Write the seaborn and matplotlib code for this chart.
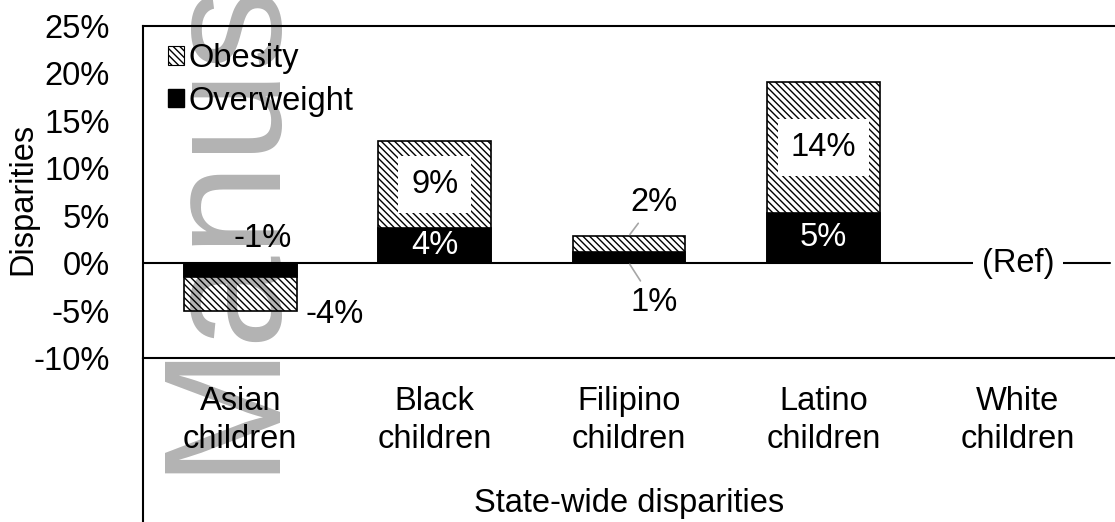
import matplotlib
matplotlib.use("Agg")
import matplotlib.pyplot as plt
import seaborn as sns
import pandas as pd
import numpy as np
from matplotlib.ticker import PercentFormatter
from matplotlib.lines import Line2D
from matplotlib.patches import Patch

# State-wide disparities relative to White children
groups = ["Asian\nchildren", "Black\nchildren", "Filipino\nchildren",
          "Latino\nchildren", "White\nchildren"]
overweight = [-0.0145, 0.037, 0.012, 0.053, 0.0]
obesity = [-0.036, 0.092, 0.017, 0.138, 0.0]
y_ticks = [-0.10, -0.05, 0.0, 0.05, 0.10, 0.15, 0.20, 0.25]
ref_group = "White\nchildren"

sns.set_theme(style="white")
plt.rcParams["font.family"] = ["Liberation Sans", "DejaVu Sans"]
plt.rcParams["axes.unicode_minus"] = False
plt.rcParams["hatch.linewidth"] = 1.0
for key in ["text.color", "axes.labelcolor", "xtick.color", "ytick.color"]:
    plt.rcParams[key] = "black"

FS = 23.5
HATCH = "\\\\\\\\\\"

df = pd.DataFrame({"group": groups, "overweight": overweight, "obesity": obesity})
df["total"] = df["overweight"] + df["obesity"]

fig = plt.figure(figsize=(11.15, 5.22), dpi=100)
ax = fig.add_axes([0.1283, 0.3142, 0.8717, 0.636])

bar_kw = dict(order=groups, saturation=1, width=0.58, edgecolor="black",
              linewidth=1.2, errorbar=None, ax=ax)
# obesity stacked on overweight: draw the combined bar, then overweight over it
sns.barplot(data=df, x="group", y="total", color="white", hatch=HATCH, **bar_kw)
sns.barplot(data=df, x="group", y="overweight", color="black", **bar_kw)

ax.axhline(0, xmin=0, xmax=0.995, color="black", lw=1.5, zorder=1)

ax.set_ylim(-0.10, 0.25)
ax.set_xlim(-0.5, len(groups) - 0.5)
ax.set_yticks(y_ticks)
ax.yaxis.set_major_formatter(PercentFormatter(1, decimals=0))
ax.tick_params(axis="y", length=0, pad=24, labelsize=FS)
ax.tick_params(axis="x", length=0, pad=20, labelsize=FS)
for t in ax.get_xticklabels():
    t.set_linespacing(1.3)
ax.set_ylabel("Disparities", fontsize=FS)
ax.yaxis.set_label_coords(-0.108, 0.48)
ax.set_xlabel("State-wide disparities", fontsize=FS, labelpad=24)

for side in ["left", "top", "bottom"]:
    ax.spines[side].set_visible(True)
    ax.spines[side].set_color("black")
    ax.spines[side].set_linewidth(1.5)
ax.spines["right"].set_visible(False)

# left border continues down around the category labels
fig.add_artist(Line2D([0.1283, 0.1283], [0.3142, 0.0], transform=fig.transFigure,
                      color="black", lw=1.5))

# value labels
pos = {g: i for i, g in enumerate(groups)}
leader = dict(arrowstyle="-", color="#a6a6a6", lw=1.2, shrinkA=2, shrinkB=1)
for g, ow, ob in zip(groups, overweight, obesity):
    x = pos[g]
    if g == ref_group:
        ax.text(x, 0, "(Ref)", ha="center", va="center", fontsize=FS,
                bbox=dict(facecolor="white", edgecolor="none", pad=6), zorder=5)
        continue
    if g in ("Black\nchildren", "Latino\nchildren"):
        ax.text(x, ow / 2, f"{ow:.0%}", ha="center", va="center", fontsize=FS,
                color="white", zorder=5)
        ax.text(x, ow + ob / 2, f"{ob:.0%}", ha="center", va="center", fontsize=FS,
                zorder=5, bbox=dict(boxstyle="square,pad=0.4", facecolor="white",
                                    edgecolor="none"))
    elif g == "Asian\nchildren":
        ax.annotate(f"{ow:.0%}", xy=(x, ow / 2), xytext=(16, 23),
                    textcoords="offset points", ha="center", va="center", fontsize=FS)
        ax.annotate(f"{ob:.0%}", xy=(x, ow + ob / 2), xytext=(68, -15),
                    textcoords="offset points", ha="center", va="center", fontsize=FS)
    else:
        ax.annotate(f"{ob:.0%}", xy=(x, ow + ob), xytext=(18, 24),
                    textcoords="offset points", ha="center", va="center", fontsize=FS,
                    arrowprops=leader)
        ax.annotate(f"{ow:.0%}", xy=(x, 0), xytext=(18, -28),
                    textcoords="offset points", ha="center", va="center", fontsize=FS,
                    arrowprops=leader)

handles = [Patch(facecolor="white", edgecolor="black", hatch=HATCH, lw=0.8, label="Obesity"),
           Patch(facecolor="black", edgecolor="black", label="Overweight")]
ax.legend(handles=handles, loc="upper left", bbox_to_anchor=(0.0, 1.022), frameon=False,
          fontsize=FS, handlelength=0.5, handleheight=0.5, handletextpad=0.15,
          labelspacing=0.35, borderaxespad=0.35)

# watermark
fig.text(267 / 1115, 1 - 473 / 522, "Manuscript", rotation=90, rotation_mode="anchor",
         ha="left", va="baseline", fontsize=120, color="black", alpha=0.3,
         family="Liberation Sans", zorder=10)

fig.savefig("out.png", dpi=100)
